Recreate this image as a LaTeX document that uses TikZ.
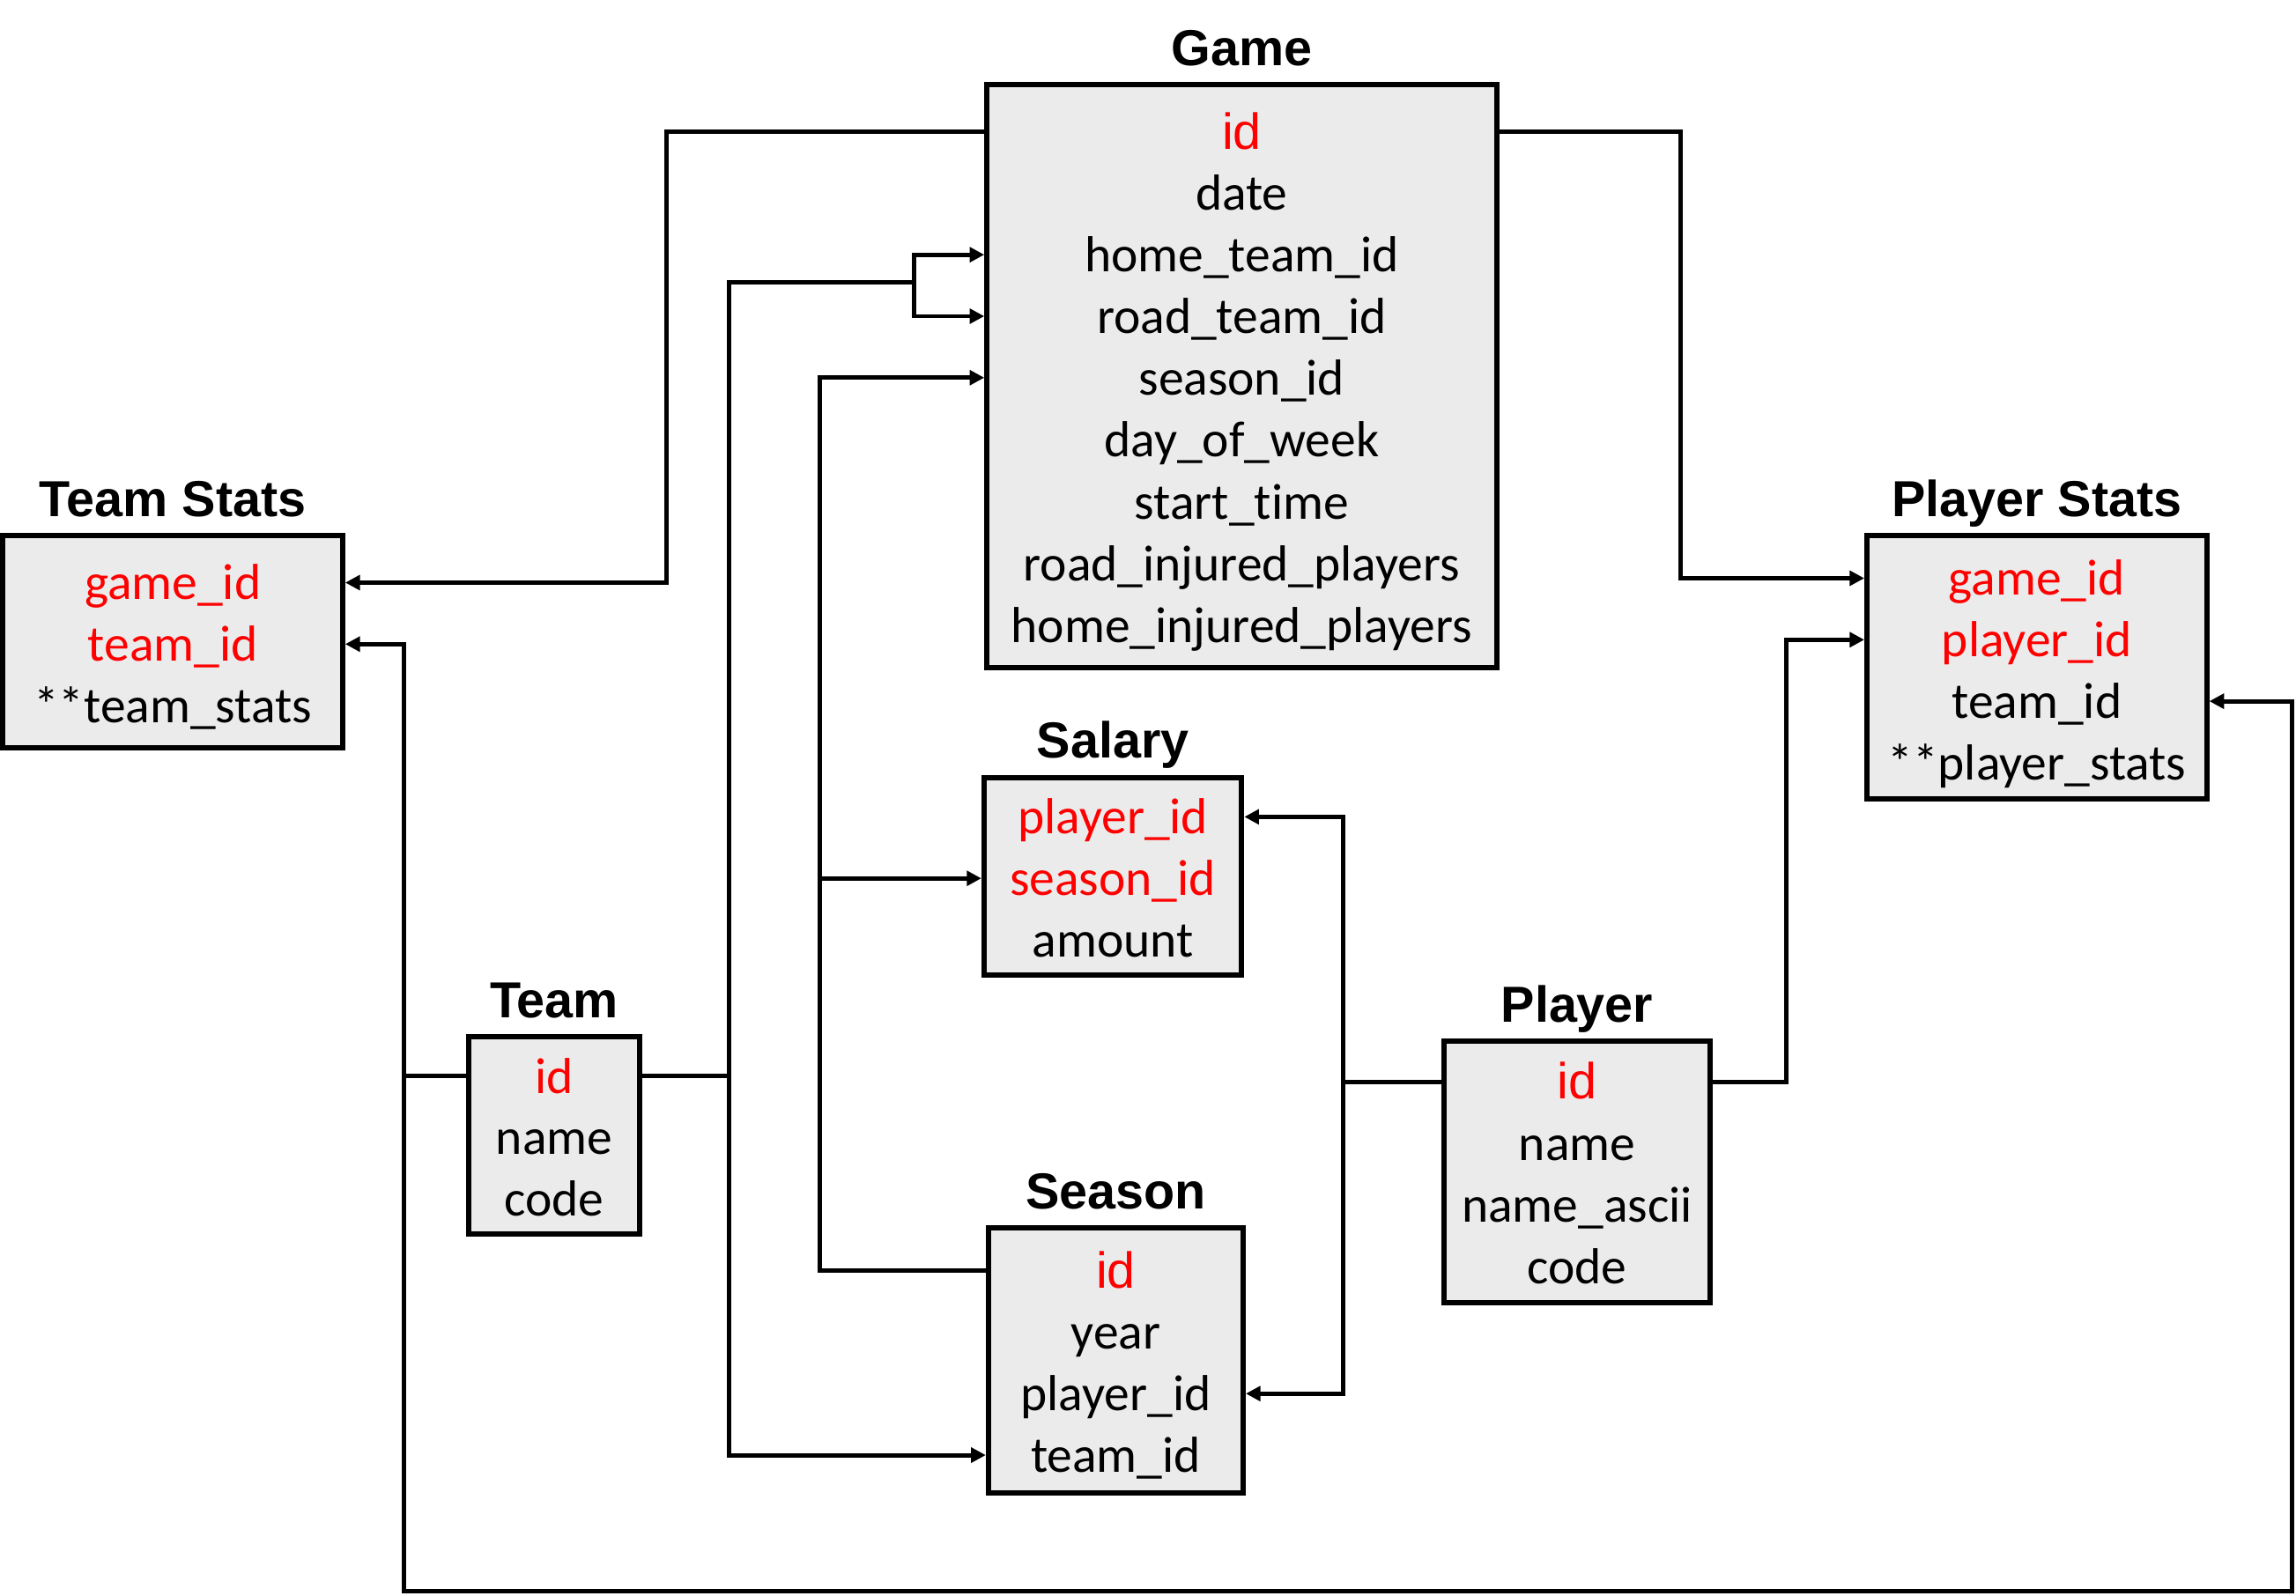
\documentclass[tikz,border=0pt]{standalone}
\usepackage{fontspec}
\setmainfont{Carlito}[Ligatures=NoCommon]
\newfontfamily\headfont{Liberation Sans}
\usepackage{tikz}
\usetikzlibrary{arrows.meta,calc,positioning}
\definecolor{boxgray}{HTML}{EBEBEB}
\definecolor{keyred}{HTML}{FF0000}
\newcommand\fieldsize{\fontsize{34.6pt}{42pt}\selectfont}
\newcommand\headsize{\headfont\bfseries\fontsize{34.6pt}{42pt}\selectfont}
\tikzset{
        tbox/.style = {draw, rectangle, line width=3.6pt,
            fill=boxgray, inner sep=0pt},
        field/.style = {inner sep=0pt, font=\fieldsize,
            text height=29pt, text depth=5.6pt},
        keyfield/.style = {field, text=keyred},
        heading/.style = {inner sep=0pt, font=\headsize, text depth=0pt},
        wire/.style = {draw, line width=3pt, line cap=rect},
        fk/.style = {wire, -{Triangle[length=10pt,width=10pt]}},
    }

\begin{document}
\begin{tikzpicture}[x=1pt,y=1pt,yscale=-1]
\useasboundingbox (0,0) rectangle (1568,1090);

% Tables
\node[tbox, minimum width=348pt, minimum height=398pt] (game) at (848,257) {};
\node[tbox, minimum width=232pt, minimum height=145pt] (tstats) at (118,438.5) {};
\node[tbox, minimum width=232pt, minimum height=180pt] (pstats) at (1391,456) {};
\node[tbox, minimum width=176pt, minimum height=135pt] (salary) at (760,598.5) {};
\node[tbox, minimum width=117pt, minimum height=135pt] (team) at (378.5,775.5) {};
\node[tbox, minimum width=174pt, minimum height=181pt] (season) at (762,929.5) {};
\node[tbox, minimum width=182pt, minimum height=179pt] (player) at (1077,800.5) {};

% Titles
\node[heading, above=11pt of game] (game-t) {Game};
\node[heading, above=11pt of tstats] (tstats-t) {Team Stats};
\node[heading, above=11pt of pstats] (pstats-t) {Player Stats};
\node[heading, above=11pt of salary] (salary-t) {Salary};
\node[heading, above=11pt of team] (team-t) {Team};
\node[heading, above=11pt of season] (season-t) {Season};
\node[heading, above=11pt of player] (player-t) {Player};

% Game fields
\node[keyfield] (game-1) at (848,90) {\headfont id};
\node[field] (game-2) at (848,132) {date};
\node[field] (game-3) at (848,174) {home\_team\_id};
\node[field] (game-4) at (848,216) {road\_team\_id};
\node[field] (game-5) at (848,258) {season\_id};
\node[field] (game-6) at (848,300) {day\_of\_week};
\node[field] (game-7) at (848,343) {start\_time};
\node[field] (game-8) at (848,385) {road\_injured\_players};
\node[field] (game-9) at (848,427) {home\_injured\_players};
% Team Stats fields
\node[keyfield] (tstats-1) at (118,398) {game\_id};
\node[keyfield] (tstats-2) at (118,440) {team\_id};
\node[field] (tstats-3) at (118,482) {**team\_stats};
% Player Stats fields
\node[keyfield] (pstats-1) at (1391,395) {game\_id};
\node[keyfield] (pstats-2) at (1391,437) {player\_id};
\node[field] (pstats-3) at (1391,479) {team\_id};
\node[field] (pstats-4) at (1391,521) {**player\_stats};
% Salary fields
\node[keyfield] (salary-1) at (760,558) {player\_id};
\node[keyfield] (salary-2) at (760,600) {season\_id};
\node[field] (salary-3) at (760,642) {amount};
% Team fields
\node[keyfield] (team-1) at (378.5,735) {id};
\node[field] (team-2) at (378.5,777) {name};
\node[field] (team-3) at (378.5,819) {code};
% Season fields
\node[keyfield] (season-1) at (762,868) {\headfont id};
\node[field] (season-2) at (762,910) {year};
\node[field] (season-3) at (762,952) {player\_id};
\node[field] (season-4) at (762,994) {team\_id};
% Player fields
\node[keyfield] (player-1) at (1077,739) {\headfont id};
\node[field] (player-2) at (1077,781) {name};
\node[field] (player-3) at (1077,823) {name\_ascii};
\node[field] (player-4) at (1077,865) {code};

% Bend points
\coordinate (gl-bend) at (455,240);
\coordinate (gr-bend) at (1148,240);
\coordinate (t-trunk) at (498,193);
\coordinate (g-fork) at (624,193);
\coordinate (t-left) at (276,600);
\coordinate (b-corner) at (1565,1087);
\coordinate (s-trunk) at (560,500);
\coordinate (p-trunk) at (917,650);
\coordinate (p-right) at (1220,600);

% Game id
\draw[fk] (game-1 -| game.west) -| (gl-bend) |- (tstats-1 -| tstats.east);
\draw[fk] (game-1 -| game.east) -| (gr-bend) |- (pstats-1 -| pstats.west);
% Team id
\draw[wire] (team-1 -| team.east) -- (team-1 -| t-trunk);
\draw[fk] (g-fork) -- (t-trunk) |- (season-4 -| season.west);
\draw[fk] (g-fork) |- (game-3 -| game.west);
\draw[fk] (g-fork) |- (game-4 -| game.west);
\draw[fk] (team-1 -| team.west) -| (t-left) |- (tstats-2 -| tstats.east);
\draw[fk] (team-1 -| t-left) |- (b-corner) |- (pstats-3 -| pstats.east);
% Season id
\draw[fk] (season-1 -| season.west) -| (s-trunk) |- (game-5 -| game.west);
\draw[fk] (salary-2 -| s-trunk) -- (salary-2 -| salary.west);
% Player id
\draw[fk] (player-1 -| player.west) -| (p-trunk) |- (salary-1 -| salary.east);
\draw[fk] (player-1 -| p-trunk) |- (season-3 -| season.east);
\draw[fk] (player-1 -| player.east) -| (p-right) |- (pstats-2 -| pstats.west);

\end{tikzpicture}
\end{document}
